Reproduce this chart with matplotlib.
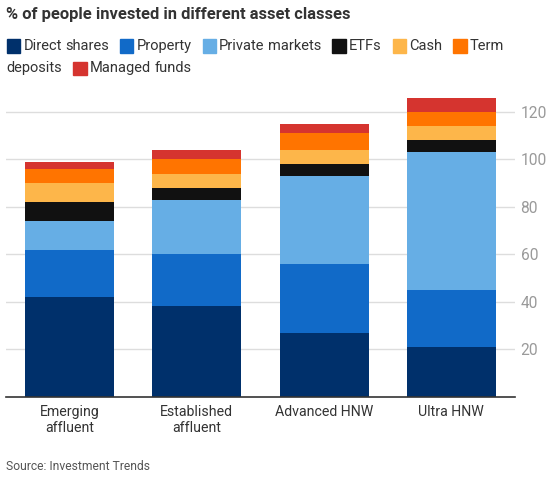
import matplotlib
matplotlib.use("Agg")
import matplotlib.pyplot as plt
from matplotlib.patches import Rectangle
from matplotlib.textpath import TextPath
from matplotlib.font_manager import FontProperties

plt.rcParams['font.family'] = ['Roboto', 'DejaVu Sans']

W, H = 547, 482

groups = ["Emerging\naffluent", "Established\naffluent", "Advanced HNW", "Ultra HNW"]
series_names = ["Direct shares", "Property", "Private markets", "ETFs",
                "Cash", "Term deposits", "Managed funds"]
direct_shares = [42, 38, 27, 21]
property_vals = [20, 22, 29, 24]
private_markets = [12, 23, 37, 58]
etfs = [8, 5, 5, 5]
cash = [8, 6, 6, 6]
term_deposits = [6, 6, 7, 6]
managed_funds = [3, 4, 4, 6]
colors = ["#00306b", "#116ac8", "#66aee5", "#111111", "#fdb64a", "#ff7400", "#d5342f"]
yticks = [20, 40, 60, 80, 100, 120]

series = [direct_shares, property_vals, private_markets, etfs, cash,
          term_deposits, managed_funds]


def fit_size(text, target_px, weight='normal'):
    # font size (pt) so that text is about target_px wide at 100 dpi
    fp = FontProperties(family=['Roboto'], weight=weight, size=10)
    w = TextPath((0, 0), text, prop=fp).get_extents().width  # in pt at size 10
    return 10 * target_px / (w * 100 / 72)


title_size = fit_size("% of people invested in different asset classes", 342, 'bold')
legend_size = fit_size("Direct shares", 84)
xlab_size = fit_size("Advanced HNW", 98)
ytick_size = fit_size("120", 24)
source_size = fit_size("Source: Investment Trends", 144)

fig = plt.figure(figsize=(W / 100, H / 100), dpi=100)
# axes: x 5.9..515 px, baseline at y=396.7, ylim 0..130
ax = fig.add_axes([5.9 / W, (H - 396.7) / H, (515 - 5.9) / W, 130 * 2.374 / H])

x = range(len(groups))
bottom = [0] * len(groups)
for vals, col in zip(series, colors):
    ax.bar(x, vals, bottom=bottom, width=0.7, color=col, zorder=2)
    bottom = [b + v for b, v in zip(bottom, vals)]

ax.set_xlim(-0.5, 3.5)
ax.set_ylim(0, 130)
ax.yaxis.tick_right()
ax.set_yticks(yticks)
ax.set_yticklabels([str(t) for t in yticks])
ax.tick_params(axis='y', length=0, pad=4, labelsize=ytick_size, labelcolor='#9a9a9a')
ax.set_xticks(list(x))
ax.set_xticklabels(groups, linespacing=1.2)
ax.tick_params(axis='x', length=0, pad=6, labelsize=xlab_size, labelcolor='#333333')
ax.grid(axis='y', color='#dddddd', linewidth=1, zorder=0)
for side in ['top', 'left', 'right']:
    ax.spines[side].set_visible(False)
ax.spines['bottom'].set_color('#333333')
ax.spines['bottom'].set_linewidth(1.2)
ax.spines['bottom'].set_zorder(3)

fig.text(6.5 / W, 1 - 15 / H, "% of people invested in different asset classes",
         fontsize=title_size, fontweight='bold', color='#333333', va='center', ha='left')

fig.text(6.5 / W, 1 - 467 / H, "Source: Investment Trends",
         fontsize=source_size, color='#555555', va='center', ha='left')

# legend, laid out as wrapping text
fig.canvas.draw()
renderer = fig.canvas.get_renderer()
rows = [46, 68.5]
row = 0
px = 6.7
sq = 13.3
max_x = 520
space = 3.5
for name, col in zip(series_names, colors):
    words = name.split()
    if px + sq > max_x:
        row += 1
        px = 6.7
    fig.patches.append(Rectangle((px / W, 1 - (rows[row] + sq / 2) / H), sq / W, sq / H,
                                 transform=fig.transFigure, color=col))
    px += sq + 3.3
    for w in words:
        t = fig.text(px / W, 1 - rows[row] / H, w, fontsize=legend_size, color='#333333',
                     va='center', ha='left')
        tw = t.get_window_extent(renderer).width
        if px + tw > max_x:
            row += 1
            px = 6.7
            t.set_position((px / W, 1 - rows[row] / H))
        px += tw + space
    px += 11 - space

fig.savefig("out.png", dpi=100)
